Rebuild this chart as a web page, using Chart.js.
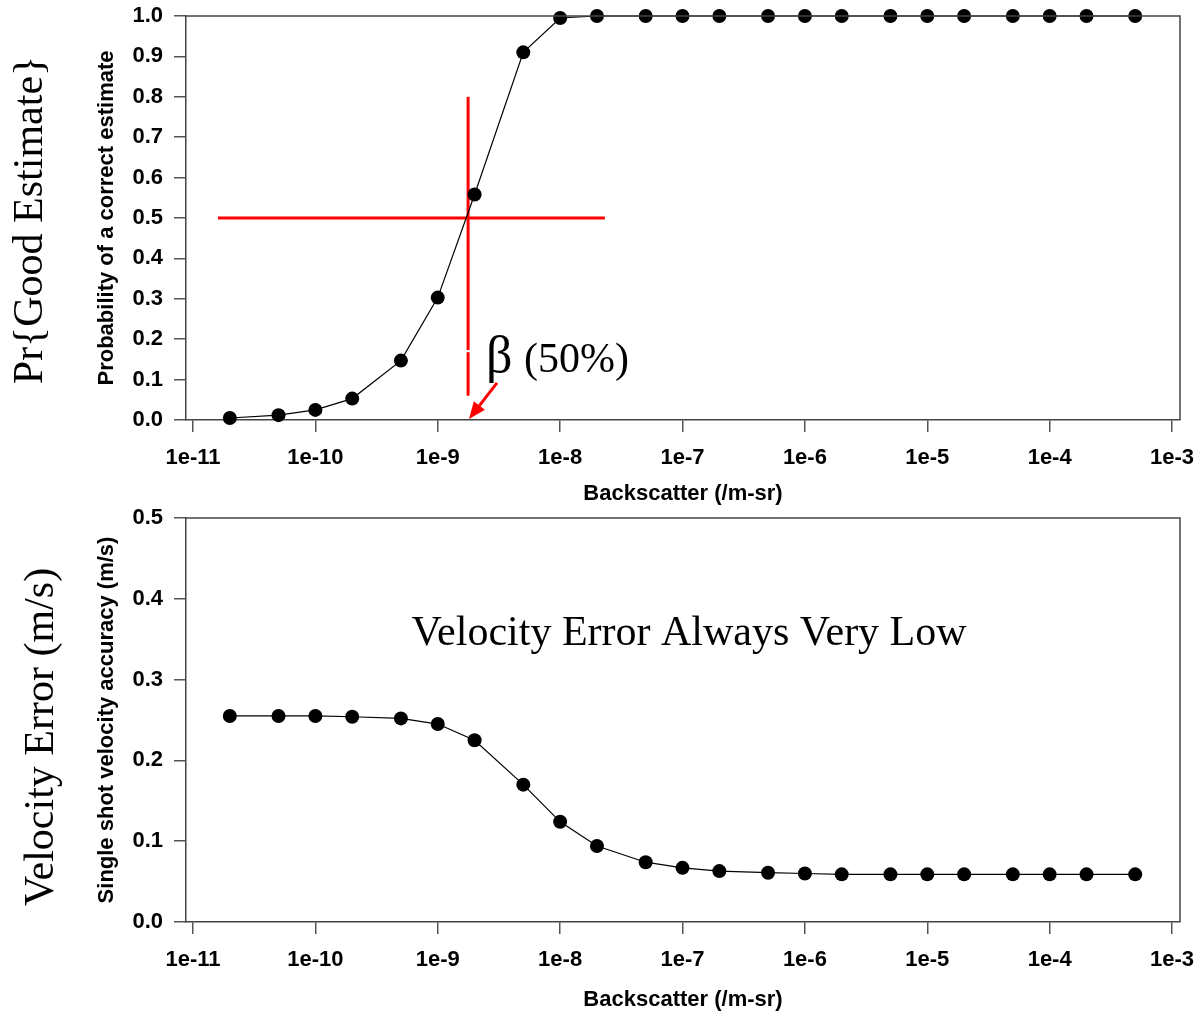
<!DOCTYPE html>
<html>
<head>
    <title>Backscatter charts</title>
    <meta name="viewport" content="width=device-width, initial-scale=1.0">
    <style>
        body { margin: 0; background: #fff; }
        #top, #bottom { position: absolute; left: 0; }
        #top { top: 0; width: 1194px; height: 506px; }
        #bottom { top: 506px; width: 1194px; height: 507px; }
    </style>
</head>

<body>
    <div id="top"><canvas id="probChart"></canvas></div>
    <div id="bottom"><canvas id="velChart"></canvas></div>

    <script src="https://cdn.jsdelivr.net/npm/chart.js"></script>

    <script>
        // data
        var backscatter = [2e-11, 5e-11, 1e-10, 2e-10, 5e-10, 1e-9, 2e-9, 5e-9, 1e-8, 2e-8, 5e-8, 1e-7,
            2e-7, 5e-7, 1e-6, 2e-6, 5e-6, 1e-5, 2e-5, 5e-5, 1e-4, 2e-4, 5e-4];
        var probCorrect = [0.005, 0.012, 0.025, 0.053, 0.147, 0.303, 0.558, 0.91, 0.995, 1.0, 1.0, 1.0,
            1.0, 1.0, 1.0, 1.0, 1.0, 1.0, 1.0, 1.0, 1.0, 1.0, 1.0];
        var velocityAcc = [0.255, 0.255, 0.255, 0.254, 0.252, 0.245, 0.225, 0.17, 0.124, 0.094, 0.074, 0.067,
            0.063, 0.061, 0.060, 0.059, 0.059, 0.059, 0.059, 0.059, 0.059, 0.059, 0.059];

        var xTickValues = [1e-11, 1e-10, 1e-9, 1e-8, 1e-7, 1e-6, 1e-5, 1e-4, 1e-3];
        var xTickLabels = ['1e-11', '1e-10', '1e-9', '1e-8', '1e-7', '1e-6', '1e-5', '1e-4', '1e-3'];

        // the 50% marker on the top chart
        var betaX = 1.77e-9;
        var halfLineX = [1.6e-11, 2.32e-8];
        var betaLineY = [[0.06, 0.168], [0.173, 0.80]];

        var xMin = Math.pow(10, -11.057);
        var xMax = Math.pow(10, -2.935);

        var sansBold = { family: 'Liberation Sans, Arial, sans-serif', size: 22, weight: 'bold' };
        var serif = 'Liberation Serif, Times New Roman, serif';

        function points(ys) {
            return backscatter.map(function (x, i) { return { x: x, y: ys[i] }; });
        }

        function makeScales(yMax, yTitle, xHeight, titlePadBottom) {
            return {
                x: {
                    type: 'logarithmic',
                    min: xMin,
                    max: xMax,
                    bounds: 'data',
                    afterBuildTicks: function (s) {
                        s.ticks = xTickValues.map(function (v) { return { value: v }; });
                    },
                    afterFit: function (s) {
                        s.height = xHeight;
                        s.paddingLeft = 0;
                        s.paddingRight = 0;
                    },
                    ticks: {
                        autoSkip: false,
                        maxRotation: 0,
                        padding: 13,
                        color: '#000',
                        font: sansBold,
                        callback: function (v, i) { return xTickLabels[i]; }
                    },
                    grid: { drawOnChartArea: false, tickLength: 12, color: '#555', lineWidth: 1.5 },
                    border: { color: '#444', width: 1.5 },
                    title: {
                        display: true,
                        text: 'Backscatter (/m-sr)',
                        color: '#000',
                        font: sansBold,
                        padding: { top: 0, bottom: titlePadBottom }
                    }
                },
                y: {
                    type: 'linear',
                    min: 0,
                    max: yMax,
                    afterFit: function (s) {
                        s.width = 186;
                        s.paddingTop = 0;
                        s.paddingBottom = 0;
                    },
                    ticks: {
                        stepSize: 0.1,
                        padding: 11,
                        color: '#000',
                        font: sansBold,
                        callback: function (v) { return Number(v).toFixed(1); }
                    },
                    grid: { drawOnChartArea: false, tickLength: 12, color: '#555', lineWidth: 1.5 },
                    border: { color: '#444', width: 1.5 },
                    title: {
                        display: true,
                        text: yTitle,
                        color: '#000',
                        font: { family: sansBold.family, size: 22, weight: 'bold' },
                        padding: { top: 94, bottom: 0 }
                    }
                }
            };
        }

        function mainSeries(ys) {
            return {
                data: points(ys),
                borderColor: '#000',
                borderWidth: 1.2,
                backgroundColor: '#000',
                pointRadius: 7,
                pointBackgroundColor: '#000',
                pointBorderWidth: 0,
                tension: 0,
                clip: false
            };
        }

        function redLine(data) {
            return {
                data: data,
                borderColor: '#ff0000',
                borderWidth: 3,
                pointRadius: 0,
                clip: false
            };
        }

        // frame on top and right, plus the big serif label on the left
        function framePlugin(outerLabel, baselineX, shiftY) {
            return {
                id: 'frame',
                afterDraw: function (chart) {
                    var a = chart.chartArea, ctx = chart.ctx;
                    ctx.save();
                    ctx.strokeStyle = '#444';
                    ctx.lineWidth = 1.5;
                    ctx.beginPath();
                    ctx.moveTo(a.left, a.top);
                    ctx.lineTo(a.right, a.top);
                    ctx.lineTo(a.right, a.bottom);
                    ctx.stroke();

                    ctx.fillStyle = '#000';
                    ctx.font = '42px ' + serif;
                    ctx.textAlign = 'center';
                    ctx.textBaseline = 'alphabetic';
                    ctx.translate(baselineX, (a.top + a.bottom) / 2 + shiftY);
                    ctx.rotate(-Math.PI / 2);
                    ctx.fillText(outerLabel, 0, 0);
                    ctx.restore();
                }
            };
        }

        var betaPlugin = {
            id: 'beta',
            afterDatasetsDraw: function (chart) {
                var ctx = chart.ctx, xs = chart.scales.x, ys = chart.scales.y;
                var x0 = xs.getPixelForValue(3.05e-9), y0 = ys.getPixelForValue(0.092);
                var x1 = xs.getPixelForValue(1.8e-9), y1 = ys.getPixelForValue(0.0025);
                var ang = Math.atan2(y1 - y0, x1 - x0);
                var head = 17, half = 7;
                var bx = x1 - head * Math.cos(ang), by = y1 - head * Math.sin(ang);
                ctx.save();
                ctx.strokeStyle = '#ff0000';
                ctx.fillStyle = '#ff0000';
                ctx.lineWidth = 3;
                ctx.beginPath();
                ctx.moveTo(x0, y0);
                ctx.lineTo(bx, by);
                ctx.stroke();
                ctx.beginPath();
                ctx.moveTo(x1, y1);
                ctx.lineTo(bx + half * Math.sin(ang), by - half * Math.cos(ang));
                ctx.lineTo(bx - half * Math.sin(ang), by + half * Math.cos(ang));
                ctx.closePath();
                ctx.fill();

                ctx.fillStyle = '#000';
                ctx.textBaseline = 'alphabetic';
                ctx.textAlign = 'left';
                var tx = xs.getPixelForValue(2.48e-9), ty = ys.getPixelForValue(0.12);
                ctx.font = '52px ' + serif;
                ctx.fillText('\u03B2', tx, ty);
                ctx.font = '42px ' + serif;
                ctx.fillText('(50%)', tx + 38, ty);
                ctx.restore();
            }
        };

        var notePlugin = {
            id: 'note',
            afterDatasetsDraw: function (chart) {
                var ctx = chart.ctx, xs = chart.scales.x, ys = chart.scales.y;
                ctx.save();
                ctx.fillStyle = '#000';
                ctx.font = '42px ' + serif;
                ctx.textAlign = 'center';
                ctx.textBaseline = 'alphabetic';
                ctx.fillText('Velocity Error Always Very Low', xs.getPixelForValue(1.13e-7), ys.getPixelForValue(0.343));
                ctx.restore();
            }
        };

        var common = {
            responsive: true,
            maintainAspectRatio: false,
            animation: false,
            plugins: { legend: { display: false }, tooltip: { enabled: false } }
        };

        new Chart(document.getElementById('probChart').getContext('2d'), {
            type: 'line',
            data: {
                datasets: [
                    mainSeries(probCorrect),
                    redLine([{ x: halfLineX[0], y: 0.5 }, { x: halfLineX[1], y: 0.5 }]),
                    redLine([{ x: betaX, y: betaLineY[0][0] }, { x: betaX, y: betaLineY[0][1] }]),
                    redLine([{ x: betaX, y: betaLineY[1][0] }, { x: betaX, y: betaLineY[1][1] }])
                ]
            },
            options: Object.assign({}, common, {
                layout: { padding: { top: 16, right: 14, left: 0, bottom: 0 } },
                scales: makeScales(1.0, 'Probability of a correct estimate', 86, -1)
            }),
            plugins: [framePlugin('Pr{Good Estimate}', 42, 2), betaPlugin]
        });

        new Chart(document.getElementById('velChart').getContext('2d'), {
            type: 'line',
            data: { datasets: [mainSeries(velocityAcc)] },
            options: Object.assign({}, common, {
                layout: { padding: { top: 12, right: 14, left: 0, bottom: 0 } },
                scales: makeScales(0.5, 'Single shot velocity accuracy (m/s)', 91, 0)
            }),
            plugins: [framePlugin('Velocity Error (m/s)', 53, 17), notePlugin]
        });
    </script>
</body>
</html>
